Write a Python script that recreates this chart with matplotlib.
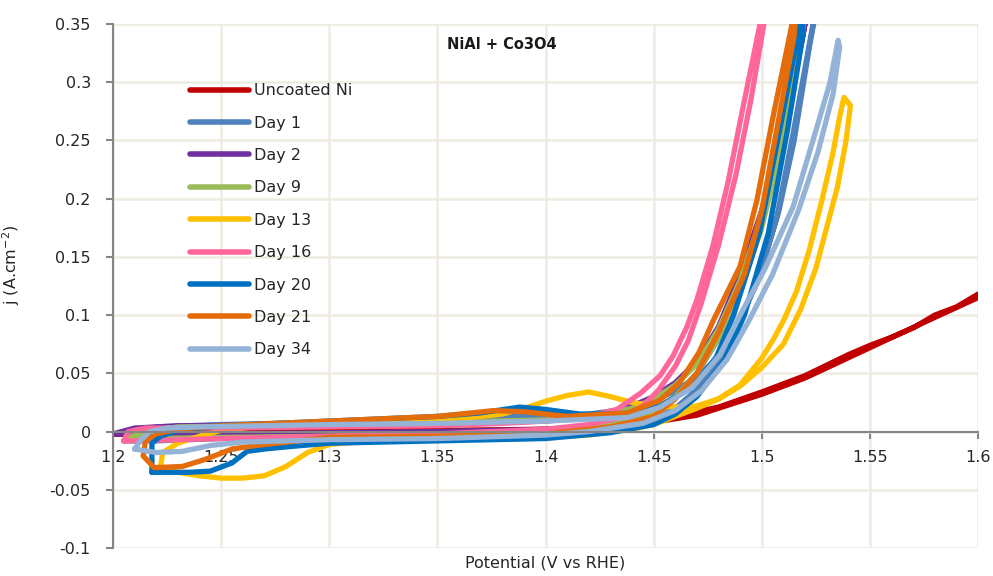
import matplotlib
matplotlib.use("Agg")
import matplotlib.pyplot as plt
from matplotlib.ticker import MultipleLocator, FuncFormatter

# Cyclic voltammograms, each list traces the forward scan then the reverse scan
uncoated_v = [1.201, 1.22, 1.25, 1.30, 1.35, 1.40, 1.42, 1.44, 1.46, 1.48, 1.50, 1.51, 1.52, 1.53,
              1.54, 1.55, 1.56, 1.57, 1.58, 1.59, 1.60, 1.605,
              1.60, 1.58, 1.55, 1.52, 1.50, 1.47, 1.45, 1.40, 1.35, 1.30, 1.25, 1.22, 1.201]
uncoated_j = [-0.002, -0.001, 0.000, 0.000, 0.001, 0.002, 0.004, 0.007, 0.013, 0.021, 0.034, 0.041, 0.048, 0.057,
              0.066, 0.074, 0.081, 0.089, 0.100, 0.107, 0.118, 0.121,
              0.115, 0.098, 0.072, 0.046, 0.032, 0.014, 0.008, 0.001, -0.001, -0.002, -0.003, -0.003, -0.002]

day1_v = [1.205, 1.21, 1.22, 1.25, 1.30, 1.35, 1.38, 1.40, 1.42, 1.44, 1.45, 1.46, 1.47, 1.48, 1.487,
          1.498, 1.507, 1.5145, 1.5237, 1.526,
          1.522, 1.515, 1.508, 1.50, 1.49, 1.48, 1.47, 1.46, 1.45, 1.43, 1.40, 1.35, 1.30, 1.25, 1.22, 1.205]
day1_j = [-0.008, 0.000, 0.004, 0.006, 0.008, 0.011, 0.013, 0.013, 0.015, 0.020, 0.026, 0.035, 0.047, 0.064, 0.085,
          0.128, 0.184, 0.256, 0.350, 0.370,
          0.330, 0.250, 0.190, 0.140, 0.095, 0.060, 0.036, 0.020, 0.010, 0.003, -0.002, -0.004, -0.005, -0.006,
          -0.008, -0.008]

day2_v = [1.200, 1.21, 1.23, 1.30, 1.35, 1.40, 1.42, 1.44, 1.45, 1.46, 1.47, 1.48, 1.49, 1.50, 1.51, 1.518, 1.521,
          1.519, 1.51, 1.50, 1.49, 1.48, 1.47, 1.46, 1.45, 1.44, 1.42, 1.40, 1.35, 1.30, 1.25, 1.200]
day2_j = [-0.002, 0.003, 0.005, 0.006, 0.007, 0.009, 0.012, 0.022, 0.030, 0.042, 0.060, 0.090, 0.135, 0.190, 0.265,
          0.330, 0.360,
          0.340, 0.260, 0.180, 0.120, 0.080, 0.050, 0.030, 0.018, 0.010, 0.004, 0.002, 0.000, -0.001, -0.002,
          -0.002]

day9_v = [1.206, 1.215, 1.23, 1.30, 1.35, 1.40, 1.42, 1.44, 1.45, 1.46, 1.47, 1.48, 1.49, 1.50, 1.51, 1.517, 1.52,
          1.518, 1.51, 1.50, 1.49, 1.48, 1.47, 1.46, 1.45, 1.43, 1.40, 1.35, 1.30, 1.25, 1.22, 1.206]
day9_j = [-0.006, 0.000, 0.004, 0.006, 0.008, 0.010, 0.012, 0.020, 0.028, 0.040, 0.058, 0.088, 0.130, 0.185, 0.260,
          0.330, 0.360,
          0.330, 0.250, 0.175, 0.120, 0.080, 0.050, 0.030, 0.017, 0.007, 0.000, -0.003, -0.004, -0.005, -0.006,
          -0.006]

day13_v = [1.222, 1.223, 1.23, 1.24, 1.25, 1.27, 1.30, 1.33, 1.36, 1.38, 1.39, 1.40, 1.41, 1.42, 1.43, 1.44, 1.45,
           1.46, 1.47, 1.48, 1.49, 1.50, 1.505, 1.51, 1.516, 1.522, 1.528, 1.533, 1.536, 1.538,
           1.541, 1.539, 1.535, 1.530, 1.525, 1.518, 1.51, 1.50, 1.49, 1.48, 1.47, 1.46, 1.45, 1.44, 1.42,
           1.40, 1.35, 1.32, 1.30, 1.29, 1.28, 1.27, 1.26, 1.25, 1.24, 1.23, 1.222]
day13_j = [-0.030, -0.018, -0.010, -0.004, 0.001, 0.005, 0.008, 0.010, 0.011, 0.015, 0.020, 0.026, 0.031, 0.034,
           0.030, 0.025, 0.022, 0.021, 0.022, 0.028, 0.040, 0.063, 0.078, 0.095, 0.120, 0.156, 0.200, 0.240,
           0.270, 0.287,
           0.280, 0.250, 0.210, 0.175, 0.140, 0.105, 0.075, 0.055, 0.039, 0.028, 0.020, 0.013, 0.006, 0.002,
           -0.003, -0.005, -0.006, -0.008, -0.011, -0.018, -0.030, -0.038, -0.040, -0.040, -0.038, -0.035, -0.030]

day16_v = [1.205, 1.207, 1.215, 1.25, 1.30, 1.35, 1.38, 1.40, 1.42, 1.433, 1.444, 1.453, 1.459, 1.4654, 1.470,
           1.4775, 1.4845, 1.4915, 1.4992, 1.501,
           1.501, 1.495, 1.488, 1.48, 1.472, 1.466, 1.46, 1.452, 1.445, 1.435, 1.42, 1.40, 1.35, 1.30, 1.25,
           1.21, 1.205]
day16_j = [-0.008, 0.000, 0.003, 0.003, 0.004, 0.005, 0.007, 0.009, 0.013, 0.019, 0.033, 0.048, 0.065, 0.090, 0.113,
           0.160, 0.215, 0.280, 0.350, 0.370,
           0.350, 0.285, 0.220, 0.160, 0.110, 0.078, 0.056, 0.035, 0.022, 0.012, 0.006, 0.002, -0.002, -0.004,
           -0.006, -0.008, -0.008]

day20_v = [1.218, 1.218, 1.222, 1.23, 1.25, 1.30, 1.35, 1.37, 1.388, 1.40, 1.416, 1.43, 1.44, 1.453, 1.468, 1.479,
           1.487, 1.499, 1.508, 1.5177, 1.519,
           1.519, 1.512, 1.503, 1.492, 1.483, 1.47, 1.46, 1.45, 1.43, 1.40, 1.35, 1.30, 1.281, 1.27, 1.262,
           1.255, 1.245, 1.235, 1.225, 1.218]
day20_j = [-0.035, -0.010, -0.004, 0.001, 0.005, 0.009, 0.013, 0.016, 0.021, 0.019, 0.015, 0.015, 0.016, 0.022,
           0.038, 0.064, 0.100, 0.171, 0.256, 0.350, 0.370,
           0.340, 0.260, 0.170, 0.100, 0.062, 0.030, 0.015, 0.006, -0.001, -0.006, -0.008, -0.010, -0.013,
           -0.015, -0.017, -0.027, -0.034, -0.035, -0.035, -0.035]

day21_v = [1.214, 1.215, 1.22, 1.23, 1.25, 1.30, 1.35, 1.376, 1.39, 1.41, 1.438, 1.453, 1.462, 1.471, 1.4775,
           1.49, 1.4978, 1.5052, 1.514, 1.516,
           1.515, 1.508, 1.50, 1.492, 1.48, 1.47, 1.46, 1.45, 1.43, 1.40, 1.35, 1.30, 1.266, 1.255, 1.2425,
           1.232, 1.219, 1.214]
day21_j = [-0.021, -0.008, -0.002, 0.002, 0.005, 0.009, 0.013, 0.018, 0.017, 0.013, 0.016, 0.027, 0.042, 0.068,
           0.095, 0.142, 0.199, 0.270, 0.350, 0.370,
           0.340, 0.270, 0.190, 0.135, 0.085, 0.050, 0.028, 0.013, 0.004, -0.002, -0.004, -0.005, -0.012,
           -0.015, -0.024, -0.030, -0.031, -0.021]

day34_v = [1.21, 1.213, 1.217, 1.225, 1.24, 1.30, 1.35, 1.40, 1.438, 1.453, 1.468, 1.4807, 1.49, 1.5015, 1.5145,
           1.5237, 1.5316, 1.5353,
           1.536, 1.533, 1.526, 1.517, 1.505, 1.494, 1.484, 1.472, 1.46, 1.445, 1.42, 1.40, 1.35, 1.30, 1.26,
           1.245, 1.232, 1.22, 1.21]
day34_j = [-0.015, -0.007, 0.000, 0.003, 0.004, 0.006, 0.007, 0.009, 0.012, 0.021, 0.038, 0.066, 0.100, 0.140,
           0.193, 0.250, 0.300, 0.336,
           0.330, 0.290, 0.240, 0.190, 0.135, 0.095, 0.062, 0.035, 0.018, 0.007, 0.000, -0.003, -0.006, -0.007,
           -0.009, -0.012, -0.017, -0.018, -0.015]

labels = ["Uncoated Ni", "Day 1", "Day 2", "Day 9", "Day 13", "Day 16", "Day 20", "Day 21", "Day 34"]
colors = ["#C00000", "#4F81BD", "#7030A0", "#9BBB59", "#FFC000", "#FF6699", "#0070C0", "#E46C0A", "#95B3D7"]
curves = [(uncoated_v, uncoated_j), (day1_v, day1_j), (day2_v, day2_j), (day9_v, day9_j),
          (day13_v, day13_j), (day16_v, day16_j), (day20_v, day20_j), (day21_v, day21_j),
          (day34_v, day34_j)]

GRID = "#EEECE1"
AXIS = "#868686"
TEXT = "#262626"
FS = 11.5

fig = plt.figure(figsize=(9.93, 5.76), dpi=100)
ax = fig.add_axes([113 / 993, 1 - 548 / 576, 865 / 993, 524 / 576])

for (v, j), lab, col in zip(curves, labels, colors):
    ax.plot(v, j, color=col, lw=3.8, label=lab,
            solid_capstyle="round", solid_joinstyle="round")

ax.set_xlim(1.2, 1.6)
ax.set_ylim(-0.1, 0.35)
ax.xaxis.set_major_locator(MultipleLocator(0.05))
ax.yaxis.set_major_locator(MultipleLocator(0.05))
fmt = FuncFormatter(lambda x, pos: ("%.2f" % x).rstrip("0").rstrip(".") if abs(x) > 1e-9 else "0")
ax.xaxis.set_major_formatter(fmt)
ax.yaxis.set_major_formatter(fmt)

ax.grid(True, color=GRID, lw=1.8, zorder=0)
ax.set_axisbelow(True)

for s in ("top", "right"):
    ax.spines[s].set_visible(False)
ax.spines["bottom"].set_position(("data", 0))
for s in ("left", "bottom"):
    ax.spines[s].set_color(AXIS)
    ax.spines[s].set_linewidth(1.5)
ax.tick_params(axis="both", colors=AXIS, length=5, width=1.5, labelsize=FS,
               labelcolor=TEXT, direction="out")
ax.tick_params(axis="y", pad=11)
ax.tick_params(axis="x", pad=8)

ax.text(0.45, 0.96, "NiAl + Co3O4", transform=ax.transAxes, fontsize=10.5,
        fontweight="bold", ha="center", va="center", color="#1a1a1a")

fig.text(545.5 / 993, 1 - 563 / 576, "Potential (V vs RHE)", ha="center", va="center",
         fontsize=FS, color=TEXT)
fig.text(11 / 993, 1 - 265 / 576, r"j (A.cm$^{-2}$)", ha="center", va="center",
         rotation=90, fontsize=FS, color=TEXT)

leg = ax.legend(loc="upper left", bbox_to_anchor=(0.089, 0.887), frameon=False,
                fontsize=FS, handlelength=3.7, handletextpad=0.3, labelspacing=1.09,
                borderpad=0, borderaxespad=0)
for line in leg.get_lines():
    line.set_linewidth(4.0)
for t in leg.get_texts():
    t.set_color(TEXT)

fig.savefig("out.png", dpi=100, facecolor="white")
